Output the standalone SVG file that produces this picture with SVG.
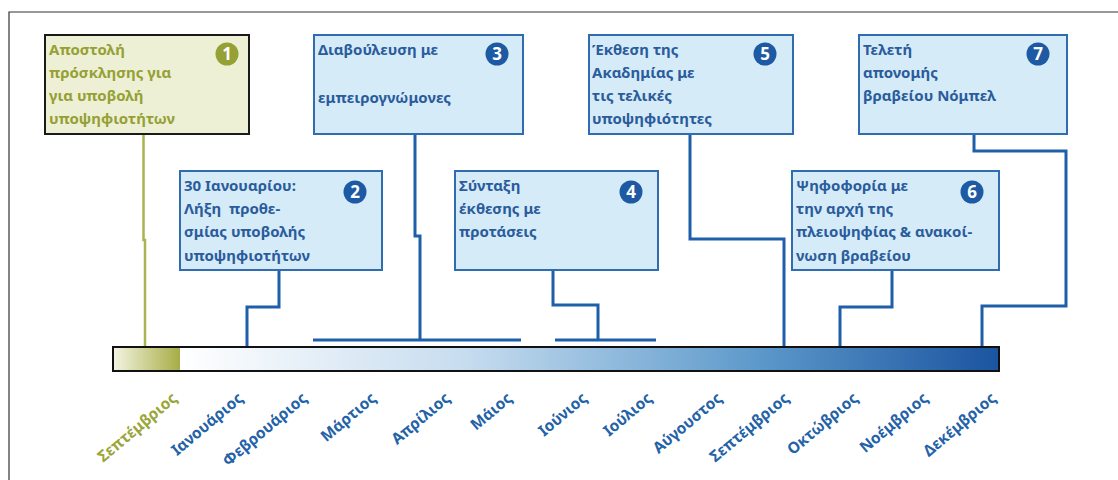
<svg xmlns="http://www.w3.org/2000/svg" width="1118" height="480" viewBox="0 0 1118 480">
<defs>
<linearGradient id="gOlive" x1="0" y1="0" x2="1" y2="0">
<stop offset="0" stop-color="#f4f4e2"/>
<stop offset="1" stop-color="#a6ad45"/>
</linearGradient>
<linearGradient id="gBlue" x1="0" y1="0" x2="1" y2="0">
<stop offset="0" stop-color="#ffffff"/>
<stop offset="0.35" stop-color="#c6dcef"/>
<stop offset="0.7" stop-color="#5e9acb"/>
<stop offset="1" stop-color="#1b54a0"/>
</linearGradient>
<style>
.box{fill:#d6ebf8;stroke:#2f6cb0;stroke-width:2}
.box1{fill:#eef0d6;stroke:#1a1a1a;stroke-width:2}
.t{font-family:"Noto Sans","DejaVu Sans",sans-serif;font-weight:700;font-size:15px;fill:#2a5c9c}
.t1{fill:#95a035}
.num{font-family:"Noto Sans","DejaVu Sans",sans-serif;font-weight:700;font-size:17px;fill:#ffffff;text-anchor:middle}
.c{fill:#1d5aa3}
.c1{fill:#95a035}
.con{fill:none;stroke:#1f5ea8;stroke-width:3}
.conO{fill:none;stroke:#a9b352;stroke-width:2.5}
.m{font-family:"Noto Sans","DejaVu Sans",sans-serif;font-weight:700;font-size:15.5px;fill:#2462a8;text-anchor:end}
.mO{fill:#9aa53a}
</style>
</defs>
<rect width="1118" height="480" fill="#ffffff"/>
<path d="M9,480 V12 H1118" fill="none" stroke="#333333" stroke-width="1.2"/>

<g id="connectors">
<path class="conO" d="M143.5,134 V240 H145 V347"/>
<path class="con" d="M279,270 V307 H247 V347"/>
<path class="con" d="M415,134 V236 H420 V340"/>
<path class="con" d="M313,340 H521"/>
<path class="con" d="M553,270 V305 H598 V340"/>
<path class="con" d="M555,340 H656"/>
<path class="con" d="M690,134 V239 H784 V347"/>
<path class="con" d="M892,270 V307 H840 V347"/>
<path class="con" d="M974,134 V151 H1066 V306 H982 V347"/>
</g>

<g id="timeline">
<rect x="180" y="347" width="819" height="24" fill="url(#gBlue)"/>
<rect x="113" y="347" width="67" height="24" fill="url(#gOlive)"/>
<rect x="113" y="347" width="886" height="24" fill="none" stroke="#111111" stroke-width="2"/>
</g>

<g id="node1">
<rect class="box1" x="45" y="35" width="204" height="99"/>
<text class="t t1" x="49" y="55">Αποστολή</text>
<text class="t t1" x="49" y="78">πρόσκλησης για</text>
<text class="t t1" x="49" y="101">για υποβολή</text>
<text class="t t1" x="49" y="124">υποψηφιοτήτων</text>
<circle class="c1" cx="227" cy="54" r="11.5"/>
<text class="num" x="227" y="60">1</text>
</g>

<g id="node3">
<rect class="box" x="314" y="35" width="209" height="99"/>
<text class="t" x="318" y="55">Διαβούλευση με</text>
<text class="t" x="318" y="103">εμπειρογνώμονες</text>
<circle class="c" cx="497" cy="54" r="11.5"/>
<text class="num" x="497" y="60">3</text>
</g>

<g id="node5">
<rect class="box" x="589" y="35" width="204" height="99"/>
<text class="t" x="592" y="55">Έκθεση της</text>
<text class="t" x="592" y="78">Ακαδημίας με</text>
<text class="t" x="592" y="101">τις τελικές</text>
<text class="t" x="592" y="124">υποψηφιότητες</text>
<circle class="c" cx="765" cy="54" r="11.5"/>
<text class="num" x="765" y="60">5</text>
</g>

<g id="node7">
<rect class="box" x="859" y="35" width="208" height="99"/>
<text class="t" x="863" y="55">Τελετή</text>
<text class="t" x="863" y="78">απονομής</text>
<text class="t" x="863" y="101">βραβείου Νόμπελ</text>
<circle class="c" cx="1038" cy="54" r="11.5"/>
<text class="num" x="1038" y="60">7</text>
</g>

<g id="node2">
<rect class="box" x="180" y="171" width="202" height="99"/>
<text class="t" x="184" y="191">30 Ιανουαρίου:</text>
<text class="t" x="184" y="214" xml:space="preserve">Λήξη  προθε-</text>
<text class="t" x="184" y="237">σμίας υποβολής</text>
<text class="t" x="184" y="261">υποψηφιοτήτων</text>
<circle class="c" cx="355" cy="192" r="11.5"/>
<text class="num" x="355" y="198">2</text>
</g>

<g id="node4">
<rect class="box" x="455" y="171" width="203" height="99"/>
<text class="t" x="459" y="191">Σύνταξη</text>
<text class="t" x="459" y="214">έκθεσης με</text>
<text class="t" x="459" y="237">προτάσεις</text>
<circle class="c" cx="631" cy="192" r="11.5"/>
<text class="num" x="631" y="198">4</text>
</g>

<g id="node6">
<rect class="box" x="792" y="171" width="207" height="99"/>
<text class="t" x="796" y="191">Ψηφοφορία με</text>
<text class="t" x="796" y="214">την αρχή της</text>
<text class="t" x="796" y="237">πλειοψηφίας &amp; ανακοί-</text>
<text class="t" x="796" y="261">νωση βραβείου</text>
<circle class="c" cx="972" cy="192" r="11.5"/>
<text class="num" x="972" y="198">6</text>
</g>

<g id="months">
<text class="m mO" transform="translate(178,400) rotate(-40)">Σεπτέμβριος</text>
<text class="m" transform="translate(244,400) rotate(-40)">Ιανουάριος</text>
<text class="m" transform="translate(308,400) rotate(-40)">Φεβρουάριος</text>
<text class="m" transform="translate(377,400) rotate(-40)">Μάρτιος</text>
<text class="m" transform="translate(451,400) rotate(-40)">Απρίλιος</text>
<text class="m" transform="translate(513,400) rotate(-40)">Μάιος</text>
<text class="m" transform="translate(588,400) rotate(-40)">Ιούνιος</text>
<text class="m" transform="translate(653,400) rotate(-40)">Ιούλιος</text>
<text class="m" transform="translate(723,400) rotate(-40)">Αύγουστος</text>
<text class="m" transform="translate(790,400) rotate(-40)">Σεπτέμβριος</text>
<text class="m" transform="translate(859,400) rotate(-40)">Οκτώβριος</text>
<text class="m" transform="translate(929,400) rotate(-40)">Νοέμβριος</text>
<text class="m" transform="translate(997,400) rotate(-40)">Δεκέμβριος</text>
</g>
</svg>
